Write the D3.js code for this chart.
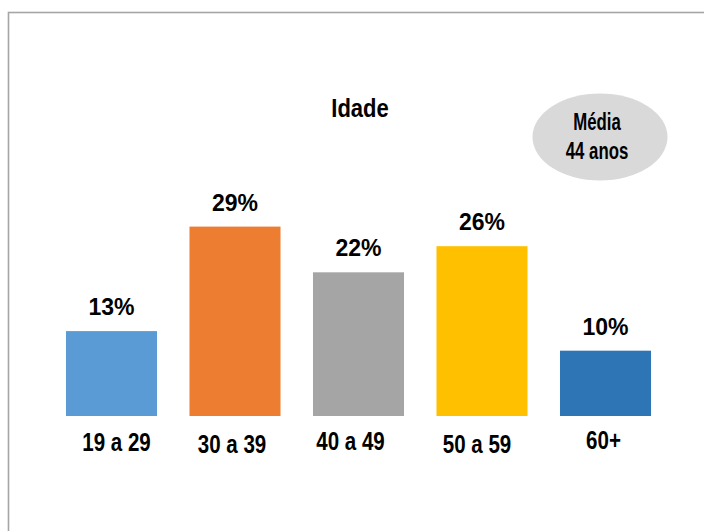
<!DOCTYPE html>
<html>
<head>
<meta charset="utf-8">
<script src="https://cdn.jsdelivr.net/npm/d3@7"></script>
<style>
  html, body { margin: 0; padding: 0; background: #fff; }
  svg { display: block; }
</style>
</head>
<body>
<svg id="chart" width="704" height="531"></svg>
<script>
// Faixas etárias e percentuais
const categories = ["19 a 29", "30 a 39", "40 a 49", "50 a 59", "60+"];
const values = [0.13, 0.29, 0.22, 0.26, 0.10];
const barColors = ["#5B9BD5", "#ED7D31", "#A5A5A5", "#FFC000", "#2E75B6"];
const title = "Idade";
const meanLines = ["Média", "44 anos"];

// Small hand-placed offsets for the category text boxes [dx, dy]
const labelShift = [[5, 0], [-3, 2], [-8, -1], [-5, 2], [-2, -2]];

const svg = d3.select("#chart");
const W = 704, H = 531;
const FONT = "'Liberation Sans', Arial, sans-serif";

// Condensed bold text: regular face squeezed horizontally
function narrow(sel, sx) {
  return sel
    .attr("transform", function () {
      const t = d3.select(this);
      return `translate(${t.attr("data-x")},${t.attr("data-y")}) scale(${sx},1)`;
    });
}

// Frame
svg.append("rect")
  .attr("x", 8.5).attr("y", 12.5)
  .attr("width", W + 20).attr("height", H + 20)
  .attr("fill", "#fff")
  .attr("stroke", "#a6a6a6")
  .attr("stroke-width", 1.6);

const x = d3.scaleBand()
  .domain(categories)
  .range([33.5, 683.5])
  .paddingInner(0.263)
  .paddingOuter(0.263);

const y = d3.scaleLinear()
  .domain([0, 0.35])
  .range([416, 187.4]);

const fmt = d3.format(".0%");
const data = categories.map((c, i) => ({ c, v: values[i], color: barColors[i], i }));

// Bars
svg.append("g").selectAll("rect")
  .data(data)
  .join("rect")
  .attr("x", d => x(d.c))
  .attr("y", d => y(d.v))
  .attr("width", x.bandwidth())
  .attr("height", d => y(0) - y(d.v))
  .attr("fill", d => d.color);

// Value labels
svg.append("g").selectAll("text")
  .data(data)
  .join("text")
  .attr("x", d => x(d.c) + x.bandwidth() / 2)
  .attr("y", d => y(d.v) - 16)
  .attr("text-anchor", "middle")
  .attr("font-family", FONT)
  .attr("font-weight", "bold")
  .attr("font-size", 23)
  .attr("fill", "#000")
  .text(d => fmt(d.v));

// Category labels
svg.append("g").selectAll("text")
  .data(data)
  .join("text")
  .attr("data-x", d => x(d.c) + x.bandwidth() / 2 + labelShift[d.i][0])
  .attr("data-y", d => 451 + labelShift[d.i][1])
  .attr("text-anchor", "middle")
  .attr("font-family", FONT)
  .attr("font-weight", "bold")
  .attr("font-size", 26)
  .attr("fill", "#000")
  .text(d => d.c)
  .call(narrow, 0.79);

// Title
svg.append("text")
  .attr("data-x", 360).attr("data-y", 117)
  .attr("text-anchor", "middle")
  .attr("font-family", FONT)
  .attr("font-weight", "bold")
  .attr("font-size", 25)
  .attr("fill", "#000")
  .text(title)
  .call(narrow, 0.88);

// Mean badge
const badge = svg.append("g").attr("transform", "translate(600,137)");
badge.append("ellipse")
  .attr("rx", 67.5).attr("ry", 43.5)
  .attr("fill", "#d9d9d9");
badge.selectAll("text")
  .data(meanLines)
  .join("text")
  .attr("data-x", -3)
  .attr("data-y", (d, i) => -7 + i * 28.5)
  .attr("text-anchor", "middle")
  .attr("font-family", FONT)
  .attr("font-weight", "bold")
  .attr("font-size", 24)
  .attr("fill", "#000")
  .text(d => d)
  .call(narrow, 0.7);
</script>
</body>
</html>
